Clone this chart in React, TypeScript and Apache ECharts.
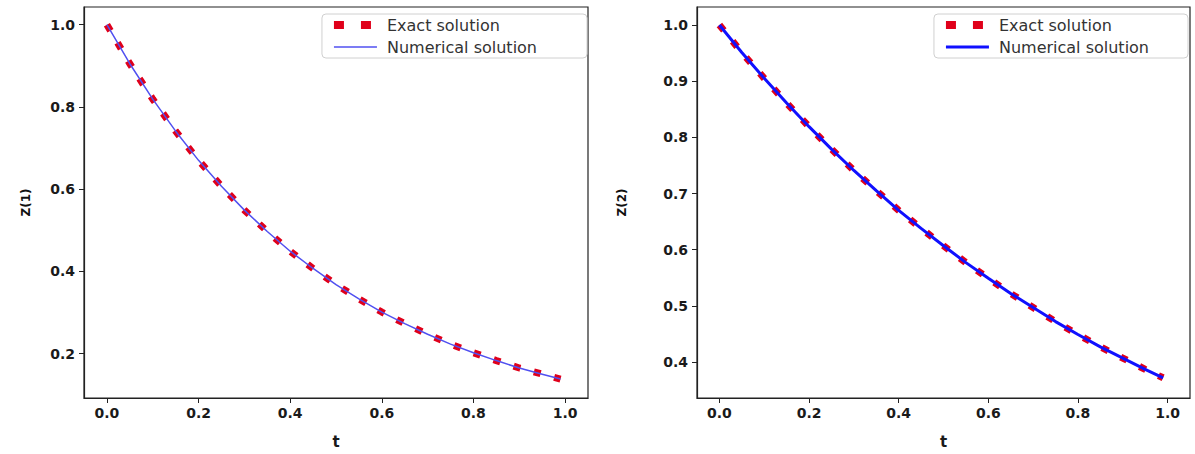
import React, { useEffect, useRef } from "react";
import * as echarts from "echarts";

// time grid
const T = [0, 0.05, 0.1, 0.15, 0.2, 0.25, 0.3, 0.35, 0.4, 0.45, 0.5, 0.55, 0.6, 0.65, 0.7, 0.75, 0.8, 0.85, 0.9, 0.95, 0.99];
// Z(1) values
const Z1_EXACT = [1.0, 0.905, 0.819, 0.741, 0.67, 0.607, 0.549, 0.497, 0.449, 0.407, 0.368, 0.333, 0.301, 0.273, 0.247, 0.223, 0.202, 0.183, 0.165, 0.15, 0.138];
const Z1_NUM = [1.0, 0.905, 0.819, 0.741, 0.67, 0.607, 0.549, 0.497, 0.449, 0.407, 0.368, 0.333, 0.301, 0.273, 0.247, 0.223, 0.202, 0.183, 0.165, 0.15, 0.138];
// Z(2) values
const Z2_EXACT = [1.0, 0.951, 0.905, 0.861, 0.819, 0.779, 0.741, 0.705, 0.67, 0.638, 0.607, 0.577, 0.549, 0.522, 0.497, 0.472, 0.449, 0.427, 0.407, 0.387, 0.372];
const Z2_NUM = [1.0, 0.951, 0.905, 0.861, 0.819, 0.779, 0.741, 0.705, 0.67, 0.638, 0.607, 0.577, 0.549, 0.522, 0.497, 0.472, 0.449, 0.427, 0.407, 0.387, 0.372];

const X_TICKS = [0, 0.2, 0.4, 0.6, 0.8, 1.0];
const Y1_TICKS = [0.2, 0.4, 0.6, 0.8, 1.0];
const Y2_TICKS = [0.4, 0.5, 0.6, 0.7, 0.8, 0.9, 1.0];

const LEGEND_NAMES = ["Exact solution", "Numerical solution"];

const FONT = "DejaVu Sans";
const RED = "#e0001a";

function pairs(xs: number[], ys: number[]) {
  return xs.map((x, i) => [x, ys[i]]);
}

export default function App() {
  const ref = useRef<HTMLDivElement>(null);
  useEffect(() => {
    document.body.style.margin = "0";
    const chart = echarts.init(ref.current!, null, { renderer: "svg" });
    const tickLabel = {
      fontFamily: FONT,
      fontWeight: "bold" as const,
      fontSize: 14,
      color: "#1a1a1a",
    };
    const xAxis = (gridIndex: number) => ({
      type: "value",
      gridIndex,
      min: -0.05,
      max: 1.05,
      name: "t",
      nameLocation: "middle",
      nameGap: 36,
      nameTextStyle: { fontFamily: FONT, fontWeight: "bold", fontSize: 15, color: "#1a1a1a" },
      axisLine: { show: true, onZero: false, lineStyle: { color: "#222", width: 1.2 } },
      axisTick: { show: true, length: 5, customValues: X_TICKS, lineStyle: { color: "#222" } },
      axisLabel: { ...tickLabel, margin: 8, customValues: X_TICKS, formatter: (v: number) => v.toFixed(1) },
      splitLine: { show: false },
    });
    const yAxis = (gridIndex: number, min: number, max: number, ticks: number[], name: string, gap: number) => ({
      type: "value",
      gridIndex,
      min,
      max,
      name,
      nameLocation: "middle",
      nameRotate: 90,
      nameGap: gap,
      nameTextStyle: { fontFamily: FONT, fontWeight: "bold", fontSize: 12, color: "#111" },
      axisLine: { show: true, onZero: false, lineStyle: { color: "#222", width: 1.2 } },
      axisTick: { show: true, length: 5, customValues: ticks, lineStyle: { color: "#222" } },
      axisLabel: { ...tickLabel, margin: 9, customValues: ticks, formatter: (v: number) => v.toFixed(1) },
      splitLine: { show: false },
    });
    const legend = (right: number, names: string[], numColor: string, numWidth: number, padRight: number) => ({
      orient: "vertical",
      top: 14,
      right,
      data: [
        {
          name: names[0],
          itemStyle: { opacity: 0 },
          lineStyle: { color: RED, width: 8, type: [10, 17], cap: "butt" },
        },
        {
          name: names[1],
          itemStyle: { opacity: 0 },
          lineStyle: { color: numColor, width: numWidth },
        },
      ],
      itemWidth: 43,
      itemHeight: 12,
      itemGap: 6,
      padding: [3, padRight, 3, 8],
      backgroundColor: "#fff",
      borderColor: "#d0d0d0",
      borderWidth: 1,
      borderRadius: 4,
      textStyle: { fontFamily: FONT, fontSize: 16, color: "#333", padding: [0, 0, 0, 5] },
      formatter: (n: string) => n.trim(),
      selectedMode: false,
    });
    const exact = (name: string, xi: number, data: number[][]) => ({
      type: "line",
      name,
      xAxisIndex: xi,
      yAxisIndex: xi,
      data,
      symbol: "none",
      color: RED,
      lineStyle: { color: RED, width: 7, type: [7, 14], cap: "butt" },
      z: 2,
    });
    const numerical = (name: string, xi: number, data: number[][], color: string, width: number) => ({
      type: "line",
      name,
      xAxisIndex: xi,
      yAxisIndex: xi,
      data,
      symbol: "none",
      color,
      lineStyle: { color, width },
      z: 3,
    });
    chart.setOption({
      animation: false,
      backgroundColor: "#fff",
      grid: [
        { left: 84, top: 7, width: 504, height: 402, show: true, borderColor: "#222", borderWidth: 1.2 },
        { left: 697, top: 7, width: 493, height: 402, show: true, borderColor: "#222", borderWidth: 1.2 },
      ],
      xAxis: [xAxis(0), xAxis(1)],
      yAxis: [
        yAxis(0, 0.092, 1.043, Y1_TICKS, "Z(1)", 52),
        yAxis(1, 0.336, 1.032, Y2_TICKS, "Z(2)", 69),
      ],
      legend: [
        legend(1195 - 587, LEGEND_NAMES, "#5050f0", 1.5, 50),
        legend(7, LEGEND_NAMES.map((n) => n + " "), "#1010ff", 3, 39),
      ],
      series: [
        exact(LEGEND_NAMES[0], 0, pairs(T, Z1_EXACT)),
        numerical(LEGEND_NAMES[1], 0, pairs(T, Z1_NUM), "#5050f0", 1.5),
        exact(LEGEND_NAMES[0] + " ", 1, pairs(T, Z2_EXACT)),
        numerical(LEGEND_NAMES[1] + " ", 1, pairs(T, Z2_NUM), "#1010ff", 3),
      ],
    });
    return () => chart.dispose();
  }, []);
  return <div ref={ref} style={{ width: 1195, height: 454 }} />;
}
